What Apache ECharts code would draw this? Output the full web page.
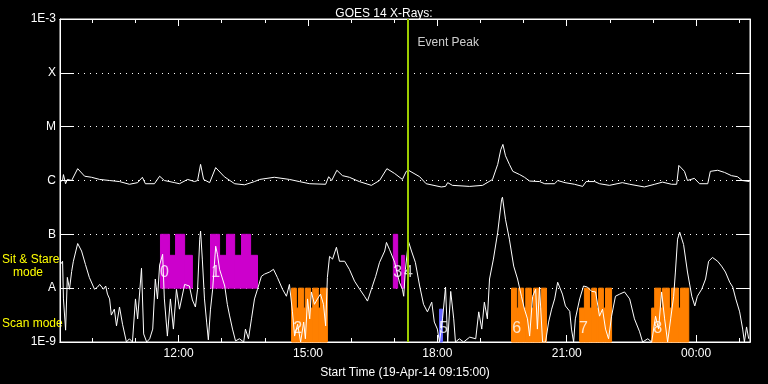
<!DOCTYPE html>
<html><head><meta charset="utf-8">
<script src="https://cdn.jsdelivr.net/npm/echarts@6/dist/echarts.min.js"></script>
<style>html,body{margin:0;padding:0;background:#000;}#c{width:768px;height:384px;}</style>
</head><body><div id="c"></div>
<script>
// Time in decimal hours (09:15 on 19-Apr-14 = 9.25; after midnight > 24), flux as log10(W/m^2)
const longChannel = [
[9.25,-6.02],[9.31,-6.00],[9.33,-5.89],[9.38,-6.06],[9.42,-5.98],[9.52,-6.00],[9.66,-5.78],[9.82,-5.92],[9.98,-5.94],[10.17,-5.98],
[10.40,-6.00],[10.63,-6.02],[10.86,-6.07],[11.05,-6.04],[11.16,-5.94],[11.23,-6.06],[11.44,-6.06],[11.56,-5.92],[11.67,-6.00],[11.91,-6.04],
[12.02,-6.06],[12.21,-5.98],[12.37,-6.02],[12.44,-6.00],[12.51,-5.70],[12.58,-5.98],[12.72,-6.04],[12.86,-5.76],[13.06,-5.93],[13.30,-6.06],
[13.53,-6.08],[13.76,-6.02],[13.88,-5.98],[14.22,-5.94],[14.57,-5.98],[14.80,-6.02],[15.04,-6.06],[15.41,-6.07],[15.48,-5.93],[15.55,-6.00],
[15.67,-5.81],[15.80,-5.91],[15.96,-5.94],[16.19,-6.02],[16.47,-6.09],[16.66,-6.00],[16.83,-5.78],[17.01,-5.87],[17.19,-5.98],[17.28,-5.83],
[17.33,-5.81],[17.59,-5.93],[17.74,-6.06],[18.09,-6.12],[18.19,-6.11],[18.24,-6.04],[18.35,-6.09],[18.75,-6.11],[19.05,-6.09],[19.28,-5.98],
[19.40,-5.70],[19.47,-5.43],[19.52,-5.33],[19.58,-5.54],[19.67,-5.70],[19.75,-5.83],[19.91,-5.89],[20.02,-5.94],[20.14,-6.01],[20.37,-6.02],
[20.49,-6.06],[20.72,-6.06],[20.79,-6.00],[20.96,-6.04],[21.18,-6.07],[21.37,-6.11],[21.45,-6.02],[21.65,-6.02],[21.76,-6.06],[21.99,-6.09],
[22.29,-6.04],[22.46,-6.07],[22.80,-6.12],[23.04,-6.07],[23.22,-6.03],[23.43,-6.07],[23.55,-6.07],[23.60,-5.72],[23.73,-5.83],[23.80,-6.00],
[23.96,-5.96],[24.08,-6.06],[24.27,-6.06],[24.33,-5.83],[24.50,-5.81],[24.66,-5.85],[24.82,-5.91],[24.96,-5.93],[25.07,-6.00],[25.24,-6.02]
];
const shortChannel = [
[9.26,-7.56],[9.31,-7.50],[9.33,-8.20],[9.38,-8.78],[9.42,-7.80],[9.47,-8.02],[9.52,-7.69],[9.56,-7.50],[9.66,-7.17],[9.75,-7.31],
[9.84,-7.56],[9.93,-7.80],[10.05,-8.02],[10.12,-7.98],[10.17,-7.93],[10.26,-8.02],[10.31,-7.96],[10.35,-8.11],[10.40,-8.20],[10.44,-8.50],
[10.51,-8.39],[10.56,-8.70],[10.63,-8.35],[10.70,-8.67],[10.79,-9.00],[10.86,-8.94],[10.93,-9.00],[11.00,-8.20],[11.05,-8.57],[11.14,-7.63],
[11.19,-8.85],[11.26,-9.00],[11.33,-8.94],[11.40,-8.76],[11.46,-7.83],[11.51,-8.20],[11.56,-7.57],[11.63,-7.37],[11.67,-8.20],[11.74,-8.89],
[11.81,-8.20],[11.88,-8.76],[11.95,-8.02],[12.02,-8.39],[12.14,-7.93],[12.25,-7.96],[12.32,-8.22],[12.39,-8.35],[12.44,-8.02],[12.49,-7.09],
[12.51,-6.94],[12.55,-7.46],[12.60,-8.20],[12.65,-8.63],[12.69,-8.96],[12.74,-8.39],[12.79,-8.02],[12.86,-7.22],[12.90,-7.37],[12.95,-7.65],
[13.07,-7.96],[13.13,-8.30],[13.18,-8.50],[13.25,-8.76],[13.32,-8.98],[13.41,-8.94],[13.51,-9.00],[13.55,-8.76],[13.62,-8.94],[13.69,-8.57],
[13.76,-8.20],[13.83,-8.02],[13.92,-7.78],[13.99,-7.74],[14.11,-7.70],[14.20,-7.65],[14.29,-7.80],[14.41,-8.02],[14.50,-8.15],[14.57,-7.93],
[14.64,-8.44],[14.69,-8.89],[14.76,-8.67],[14.83,-9.00],[14.90,-8.63],[14.94,-8.94],[14.99,-8.20],[15.04,-8.57],[15.08,-8.07],[15.15,-8.30],
[15.22,-8.20],[15.29,-8.11],[15.36,-8.30],[15.41,-8.70],[15.45,-7.80],[15.50,-7.41],[15.57,-7.46],[15.66,-7.24],[15.73,-7.50],[15.85,-7.50],
[15.96,-7.65],[16.08,-7.87],[16.20,-8.02],[16.31,-8.15],[16.38,-8.24],[16.47,-8.02],[16.57,-7.78],[16.66,-7.52],[16.78,-7.31],[16.82,-7.15],
[16.89,-7.28],[17.01,-7.52],[17.12,-7.89],[17.19,-8.02],[17.22,-8.15],[17.26,-7.65],[17.33,-7.13],[17.40,-7.31],[17.49,-7.52],[17.59,-7.96],
[17.68,-8.30],[17.77,-8.44],[17.87,-8.26],[17.93,-8.63],[18.00,-8.76],[18.05,-9.00],[18.12,-8.57],[18.19,-7.98],[18.24,-9.00],[18.31,-8.06],
[18.38,-8.57],[18.42,-9.00],[18.51,-8.94],[18.61,-9.00],[18.75,-8.91],[18.89,-8.94],[18.96,-8.44],[19.03,-8.76],[19.09,-8.26],[19.16,-8.57],
[19.21,-7.83],[19.30,-7.46],[19.40,-6.96],[19.49,-6.35],[19.51,-6.31],[19.58,-6.72],[19.67,-7.09],[19.77,-7.59],[19.86,-7.83],[19.95,-8.15],
[20.02,-8.39],[20.09,-8.57],[20.14,-8.89],[20.21,-8.15],[20.28,-8.02],[20.32,-8.76],[20.37,-7.98],[20.44,-9.00],[20.51,-9.00],[20.58,-8.63],
[20.65,-8.39],[20.72,-8.20],[20.79,-7.89],[20.83,-7.87],[20.90,-8.11],[20.97,-8.33],[21.07,-8.43],[21.11,-8.76],[21.16,-9.00],[21.20,-8.57],
[21.30,-8.20],[21.39,-7.96],[21.48,-7.98],[21.58,-8.06],[21.67,-8.07],[21.76,-8.52],[21.83,-8.39],[21.90,-8.76],[21.97,-8.94],[22.04,-8.52],
[22.13,-8.15],[22.23,-8.11],[22.34,-8.07],[22.46,-8.20],[22.57,-8.57],[22.69,-8.81],[22.76,-9.00],[22.88,-8.94],[22.97,-9.00],[23.06,-8.52],
[23.13,-8.76],[23.20,-8.07],[23.27,-8.57],[23.34,-9.00],[23.41,-8.57],[23.48,-8.15],[23.52,-7.70],[23.57,-7.09],[23.62,-6.96],[23.71,-7.19],
[23.80,-7.70],[23.90,-8.15],[23.97,-8.33],[24.03,-8.15],[24.13,-8.02],[24.22,-7.83],[24.29,-7.50],[24.38,-7.43],[24.50,-7.50],[24.59,-7.59],
[24.68,-7.70],[24.78,-7.89],[24.85,-7.98],[24.92,-8.20],[25.01,-8.44],[25.08,-8.76],[25.12,-9.00],[25.17,-8.72],[25.22,-8.94]
];
// Observation bars: [start, end, top]
const sitStareBars = [
[11.58,11.79,-7],[11.79,11.93,-7.39],[11.93,12.14,-7],[12.14,12.32,-7.39],
[12.74,12.95,-7],[12.95,13.11,-7.39],[13.11,13.30,-7],[13.30,13.46,-7.39],[13.46,13.67,-7],[13.67,13.83,-7.39],
[16.98,17.08,-7],[17.17,17.24,-7.39]
];
const scanBars = [
[14.62,14.73,-8],[14.73,14.78,-8.37],[14.78,14.90,-8],[14.90,14.94,-8.37],[14.94,15.06,-8],[15.06,15.11,-8.37],[15.11,15.24,-8],[15.24,15.29,-8.37],[15.29,15.45,-8],
[19.72,19.84,-8],[19.84,19.88,-8.37],[19.88,20.00,-8],[20.00,20.05,-8.37],[20.05,20.18,-8],[20.18,20.23,-8.37],[20.23,20.37,-8],[20.37,20.41,-8.37],[20.41,20.53,-8],
[21.30,21.41,-8.37],[21.41,21.53,-8],[21.53,21.58,-8.37],[21.58,21.69,-8],[21.69,21.74,-8.37],[21.74,21.85,-8],[21.85,21.90,-8.37],[21.90,22.04,-8],
[22.97,23.04,-8.37],[23.04,23.18,-8],[23.18,23.22,-8.37],[23.22,23.38,-8],[23.38,23.43,-8.37],[23.43,23.59,-8],[23.59,23.64,-8.37],[23.64,23.83,-8]
];
const otherBars = [[18.05,18.12,-8.39]];
const sitStareBase = -8, scanBase = -9;
const obsLabels = [[11.67,-7.72,'0'],[12.86,-7.72,'1'],[14.76,-8.76,'2'],[17.08,-7.72,'3'],[17.33,-7.72,'4'],[18.14,-8.76,'5'],[19.84,-8.76,'6'],[21.39,-8.76,'7'],[23.11,-8.76,'8']];
const eventPeak = 17.31;
const xMajorValues = [12,15,18,21,24];
const xMajorLabels = ['12:00','15:00','18:00','21:00','00:00'];
const xMinorValues = [10,11,13,14,16,17,19,20,22,23,25];
const yTickLabels = ['1E-9','A','B','C','M','X','1E-3'];

const FONT = 'Liberation Sans';
const rects = [];
sitStareBars.forEach(b => rects.push([b[0], b[1], b[2], sitStareBase, 0]));
scanBars.forEach(b => rects.push([b[0], b[1], b[2], scanBase, 1]));
otherBars.forEach(b => rects.push([b[0], b[1], b[2], scanBase, 2]));
const barColors = ['#cc00cc', '#ff8000', '#6464ff'];

const grid = {left: 60, right: 18, top: 19, bottom: 41, show: true, borderColor: '#fff', borderWidth: 1, containLabel: false};
function xAx(pos, ticks, len, showLabel, name) {
  return {type: 'value', min: 9.25, max: 25.25, position: pos,
    axisLine: {show: true, lineStyle: {color: '#fff', width: 1}},
    axisTick: {show: true, inside: true, length: len, customValues: ticks, lineStyle: {color: '#fff', width: 1}},
    axisLabel: showLabel ? {show: true, customValues: xMajorValues, color: '#fff', fontFamily: FONT, fontSize: 12, margin: 6,
      formatter: v => xMajorLabels[xMajorValues.indexOf(v)]} : {show: false},
    splitLine: {show: false},
    name: name || '', nameLocation: 'middle', nameGap: 25, nameTextStyle: {color: '#fff', fontFamily: FONT, fontSize: 12}
  };
}
function yAx(pos, showLabel) {
  return {type: 'value', min: -9, max: -3, interval: 1, position: pos,
    axisLine: {show: true, lineStyle: {color: '#fff'}},
    axisTick: {show: true, inside: true, length: 14, lineStyle: {color: '#fff'}},
    axisLabel: showLabel ? {show: true, color: '#fff', fontFamily: FONT, fontSize: 12, margin: 4,
      formatter: v => yTickLabels[Math.round(v + 9)]} : {show: false},
    splitLine: showLabel ? {show: true, lineStyle: {color: '#fff', type: [1, 5], width: 1}} : {show: false}
  };
}

const chart = echarts.init(document.getElementById('c'), null, {renderer: 'canvas'});
chart.setOption({
  backgroundColor: '#000',
  animation: false,
  title: {text: 'GOES 14 X-Rays:', left: 'center', top: 3, textStyle: {color: '#fff', fontFamily: FONT, fontSize: 12, fontWeight: 'normal'}},
  grid: grid,
  xAxis: [
    xAx('bottom', xMajorValues, 7, true, 'Start Time (19-Apr-14 09:15:00)'),
    xAx('bottom', xMinorValues, 4, false),
    xAx('top', xMajorValues, 7, false),
    xAx('top', xMinorValues, 4, false)
  ],
  yAxis: [yAx('left', true), yAx('right', false)],
  graphic: [
    {type: 'text', left: 2, top: 254, style: {text: 'Sit & Stare', fill: '#ffff00', font: '12px ' + FONT}},
    {type: 'text', left: 13, top: 267, style: {text: 'mode', fill: '#ffff00', font: '12px ' + FONT}},
    {type: 'text', left: 2, top: 318, style: {text: 'Scan mode', fill: '#ffff00', font: '12px ' + FONT}}
  ],
  series: [
    {type: 'custom', xAxisIndex: 0, yAxisIndex: 0, data: rects, encode: {x: [0, 1], y: [2, 3]}, z: 1,
      renderItem: function (params, api) {
        const p1 = api.coord([api.value(0), api.value(2)]);
        const p2 = api.coord([api.value(1), api.value(3)]);
        const c = barColors[api.value(4)];
        return {type: 'rect', shape: {x: p1[0], y: p1[1], width: p2[0] - p1[0], height: p2[1] - p1[1]},
          style: {fill: c, stroke: c, lineWidth: 1}};
      }},
    {type: 'line', name: 'long', data: longChannel, showSymbol: false, symbol: 'none', z: 3,
      lineStyle: {color: '#fff', width: 1}},
    {type: 'line', name: 'short', data: shortChannel, showSymbol: false, symbol: 'none', z: 3,
      lineStyle: {color: '#fff', width: 1},
      markLine: {silent: true, symbol: 'none', label: {show: false},
        lineStyle: {color: '#9ccc00', width: 2, type: 'solid'}, data: [{xAxis: eventPeak}]}},
    {type: 'scatter', data: obsLabels, symbolSize: 0, z: 4,
      label: {show: true, position: 'inside', color: '#fff', fontFamily: FONT, fontSize: 16, formatter: p => p.data[2]}},
    {type: 'scatter', data: [[eventPeak, -3.44]], symbolSize: 0, z: 4,
      label: {show: true, position: 'right', distance: 10, color: '#fff', fontFamily: FONT, fontSize: 12, formatter: 'Event Peak'}}
  ]
});
</script>
</body></html>
